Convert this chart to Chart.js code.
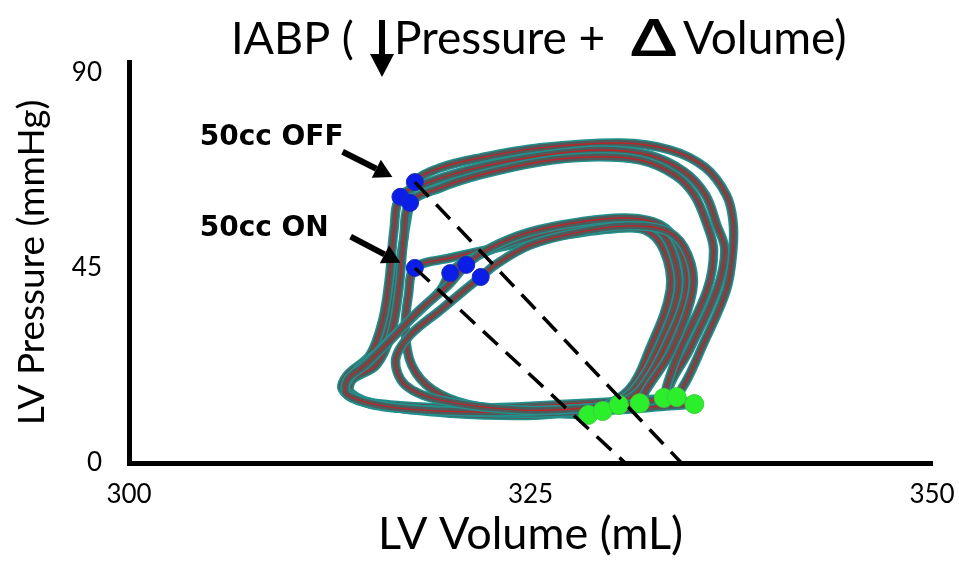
<!DOCTYPE html>
<html>
<head>
<meta charset="utf-8">
<title>IABP pressure-volume loops</title>
<script src="https://cdn.jsdelivr.net/npm/chart.js@4.4.1/dist/chart.umd.min.js"></script>
<style>
  html, body { margin: 0; padding: 0; background: #ffffff; }
  #wrap { width: 959px; height: 561px; }
</style>
</head>
<body>
<div id="wrap"><canvas id="pv" width="959" height="561"></canvas></div>
<script>
// Axis ticks
const xTicks = [300, 325, 350];
const yTicks = [0, 45, 90];

// Pressure-volume loops with the balloon pumping off (50cc OFF)
const off1Volume   = [334.1, 334.8, 335.6, 337.2, 337.6, 337.6, 337.2, 335.9, 333.7, 330.6, 325.6, 321.9, 319.4, 317.8, 317.4, 316.9, 316.4, 315.6, 314.1, 313.3, 313.9, 316.9, 321.9, 327.5, 331.8, 334.1];
const off1Pressure = [15.2, 19.6, 26.1, 39.9, 49.1, 56.1, 61.8, 68.1, 72.2, 73.8, 72.7, 70.4, 68.1, 64.8, 58.4, 46.9, 35.3, 26.1, 21.0, 18.0, 15.0, 13.2, 12.7, 13.6, 14.5, 15.2];

const off2Volume   = [335.2, 333.6, 334.9, 336.6, 337.1, 336.6, 335.9, 334.6, 332.4, 329.3, 325.9, 321.9, 318.7, 316.9, 316.5, 316.2, 315.8, 315.0, 313.6, 313.3, 314.7, 318.7, 324.4, 330.0, 333.7, 335.2];
const off2Pressure = [13.6, 16.1, 26.1, 39.9, 49.1, 54.9, 61.8, 67.1, 71.0, 72.2, 71.0, 68.3, 64.8, 61.4, 53.8, 42.2, 33.0, 24.9, 20.3, 16.9, 13.9, 12.2, 11.8, 12.2, 13.2, 13.6];

const off3Volume   = [333.3, 333.6, 334.3, 336.0, 336.4, 336.0, 335.2, 334.0, 331.8, 328.7, 325.6, 321.9, 319.4, 317.5, 317.1, 316.8, 316.3, 315.4, 313.9, 313.8, 315.6, 320.0, 325.6, 330.6, 333.3];
const off3Pressure = [15.0, 19.1, 26.1, 39.9, 49.1, 54.9, 61.8, 66.4, 69.9, 70.6, 69.5, 66.5, 63.5, 60.0, 51.5, 39.9, 29.5, 22.6, 19.2, 16.2, 13.4, 11.5, 11.1, 13.2, 15.0];

// Pressure-volume loops with the balloon pumping on (50cc ON)
const on1Volume   = [328.6, 331.1, 332.4, 333.7, 333.3, 332.1, 330.0, 326.8, 323.1, 320.0, 317.8, 317.4, 317.2, 317.6, 318.9, 321.2, 325.0, 328.6];
const on1Pressure = [11.1, 16.8, 26.1, 39.9, 49.1, 53.8, 54.0, 52.4, 49.8, 47.3, 45.0, 38.8, 30.7, 22.6, 16.9, 13.4, 11.8, 11.1];

const on2Volume   = [329.5, 331.4, 332.9, 334.2, 333.8, 332.8, 330.3, 326.8, 323.7, 320.9, 320.0, 319.4, 317.5, 315.6, 313.9, 313.5, 315.0, 318.7, 324.4, 329.5];
const on2Pressure = [12.0, 16.8, 26.1, 39.9, 49.1, 54.2, 55.6, 53.8, 50.8, 46.4, 43.8, 39.9, 33.0, 26.1, 20.3, 16.9, 13.6, 12.2, 11.5, 12.0];

const on3Volume   = [330.5, 331.8, 333.3, 334.7, 334.3, 333.1, 330.9, 328.1, 325.0, 322.5, 321.0, 319.9, 318.1, 316.3, 314.7, 313.6, 313.6, 316.3, 321.2, 326.8, 330.5];
const on3Pressure = [13.4, 16.8, 26.1, 39.9, 49.6, 54.9, 56.5, 55.6, 53.3, 49.6, 45.7, 41.1, 35.3, 28.4, 22.6, 19.2, 15.7, 12.9, 11.8, 12.2, 13.4];

const on4Volume   = [331.8, 332.2, 333.8, 335.1, 334.8, 333.6, 331.2, 328.1, 325.0, 322.8, 321.9, 320.9, 319.4, 317.5, 316.6, 317.2, 319.4, 324.4, 328.7, 331.8];
const on4Pressure = [13.8, 16.8, 26.1, 39.9, 48.0, 53.3, 54.7, 53.3, 50.3, 45.7, 42.9, 39.9, 35.3, 29.5, 23.8, 18.0, 14.5, 12.2, 12.7, 13.8];

// End-systolic points (blue) and end-diastolic points (green)
const esVolume   = [317.8, 316.9, 317.5, 317.8, 320.0, 321.0, 321.9];
const esPressure = [64.8, 61.4, 60.0, 45.0, 43.8, 45.7, 42.9];
const edVolume   = [328.6, 329.5, 330.5, 331.8, 333.3, 334.1, 335.2];
const edPressure = [11.1, 12.0, 13.4, 13.8, 15.0, 15.2, 13.6];

// End-systolic pressure-volume relations
const espvrOffVolume   = [317.8, 334.4];
const espvrOffPressure = [64.8, 0];
const espvrOnVolume    = [317.8, 330.9];
const espvrOnPressure  = [45.0, 0];

// Callouts
const calloutText          = ['50cc OFF', '50cc ON'];
const calloutTextVolume    = [304.4, 304.4];
const calloutTextPressure  = [75.0, 54.0];
const calloutTailVolume    = [313.3, 313.8];
const calloutTailPressure  = [71.8, 52.2];
const calloutTipVolume     = [316.4, 316.9];
const calloutTipPressure   = [66.0, 46.2];

const toPoints = (v, p) => v.map((val, i) => ({ x: val, y: p[i] }));

const loops = [
  [off1Volume, off1Pressure], [off2Volume, off2Pressure], [off3Volume, off3Pressure],
  [on1Volume, on1Pressure], [on2Volume, on2Pressure], [on3Volume, on3Pressure], [on4Volume, on4Pressure]
];

const datasets = [];
loops.forEach(([v, p], i) => {
  const base = 10 + (loops.length - i) * 3;
  const data = toPoints(v, p);
  const common = { data, showLine: true, pointRadius: 0, tension: 0.35, fill: false,
                   borderJoinStyle: 'round', borderCapStyle: 'round' };
  datasets.push({ ...common, borderColor: '#22908c', borderWidth: 9.5, order: base + 2 });
  datasets.push({ ...common, borderColor: '#4f5a5a', borderWidth: 6.5, order: base + 1 });
  datasets.push({ ...common, borderColor: '#b8262a', borderWidth: 1.4, order: base });
});
datasets.push({ data: toPoints(esVolume, esPressure), showLine: false, pointRadius: 8.5,
  pointBackgroundColor: '#0b1ee8', pointBorderColor: '#1a2ab5', pointBorderWidth: 1, order: 1 });
datasets.push({ data: toPoints(edVolume, edPressure), showLine: false, pointRadius: 9.5,
  pointBackgroundColor: '#2cef2c', pointBorderColor: '#3ccf3c', pointBorderWidth: 1, order: 1 });
[[espvrOffVolume, espvrOffPressure], [espvrOnVolume, espvrOnPressure]].forEach(([v, p]) => {
  datasets.push({ data: toPoints(v, p), showLine: true, pointRadius: 0, tension: 0,
    borderColor: '#000000', borderWidth: 3.5, borderDash: [20, 11], order: 0 });
});

function drawArrow(ctx, x0, y0, x1, y1, width, headLen, headHalf) {
  const ang = Math.atan2(y1 - y0, x1 - x0);
  const bx = x1 - Math.cos(ang) * headLen, by = y1 - Math.sin(ang) * headLen;
  ctx.strokeStyle = '#000'; ctx.fillStyle = '#000'; ctx.lineWidth = width; ctx.lineCap = 'butt';
  ctx.beginPath(); ctx.moveTo(x0, y0); ctx.lineTo(bx, by); ctx.stroke();
  ctx.beginPath();
  ctx.moveTo(x1, y1);
  ctx.lineTo(bx + Math.sin(ang) * headHalf, by - Math.cos(ang) * headHalf);
  ctx.lineTo(bx - Math.sin(ang) * headHalf, by + Math.cos(ang) * headHalf);
  ctx.closePath(); ctx.fill();
}

const overlay = {
  id: 'overlay',
  afterDatasetsDraw(chart) {
    const { ctx, scales: { x, y } } = chart;
    ctx.save();
    for (let i = 0; i < calloutText.length; i++) {
      drawArrow(ctx,
        x.getPixelForValue(calloutTailVolume[i]), y.getPixelForValue(calloutTailPressure[i]),
        x.getPixelForValue(calloutTipVolume[i]), y.getPixelForValue(calloutTipPressure[i]),
        6, 18, 10);
      ctx.font = 'bold 28px "DejaVu Sans"';
      ctx.fillStyle = '#000';
      ctx.textAlign = 'left';
      ctx.textBaseline = 'middle';
      ctx.fillText(calloutText[i], x.getPixelForValue(calloutTextVolume[i]), y.getPixelForValue(calloutTextPressure[i]));
    }
    ctx.restore();
  },
  afterDraw(chart) {
    const ctx = chart.ctx;
    ctx.save();
    ctx.fillStyle = '#000';
    ctx.textAlign = 'left';
    ctx.textBaseline = 'alphabetic';
    ctx.font = '45px Lato';
    ctx.fillText('IABP (', 231, 54);
    // down arrow
    ctx.fillRect(379, 20, 6, 38);
    ctx.beginPath(); ctx.moveTo(370, 54); ctx.lineTo(394, 54); ctx.lineTo(382, 77); ctx.closePath(); ctx.fill();
    ctx.font = '46px Lato';
    ctx.fillText('Pressure +', 394, 54);
    ctx.save();
    ctx.translate(631, 56);
    ctx.scale(1.25, 1);
    ctx.font = 'bold 52px Lato';
    ctx.fillText('\u0394', 0, 0);
    ctx.restore();
    ctx.font = '46px Lato';
    ctx.fillText('Volume)', 683, 54);
    ctx.restore();
  }
};

new Chart(document.getElementById('pv'), {
  type: 'scatter',
  data: { datasets },
  plugins: [overlay],
  options: {
    responsive: false,
    devicePixelRatio: 1,
    animation: false,
    events: [],
    layout: { padding: { top: 62, right: 27, left: 0, bottom: 0 } },
    plugins: { legend: { display: false }, tooltip: { enabled: false }, title: { display: false } },
    scales: {
      x: {
        type: 'linear', min: 300, max: 350,
        afterBuildTicks: s => { s.ticks = xTicks.map(v => ({ value: v })); },
        afterFit: s => { s.height = 98; s.paddingLeft = 0; s.paddingRight = 0; },
        grid: { display: false, drawTicks: false },
        border: { display: true, color: '#000', width: 5 },
        ticks: { color: '#000', font: { family: 'Lato', size: 26 }, padding: 16, maxRotation: 0, autoSkip: false },
        title: { display: true, text: 'LV Volume (mL)', color: '#000', font: { family: 'Lato', size: 45 }, padding: { top: 0, bottom: 0 } }
      },
      y: {
        type: 'linear', min: 0, max: 92.5,
        afterBuildTicks: s => { s.ticks = yTicks.map(v => ({ value: v })); },
        afterFit: s => { s.width = 129; s.paddingTop = 0; s.paddingBottom = 0; },
        grid: { display: false, drawTicks: false },
        border: { display: true, color: '#000', width: 5 },
        ticks: { color: '#000', font: { family: 'Lato', size: 26 }, padding: 27, autoSkip: false },
        title: { display: true, text: 'LV Pressure (mmHg)', color: '#000', font: { family: 'Lato', size: 37 }, padding: { top: 10, bottom: 0 } }
      }
    }
  }
});
</script>
</body>
</html>
